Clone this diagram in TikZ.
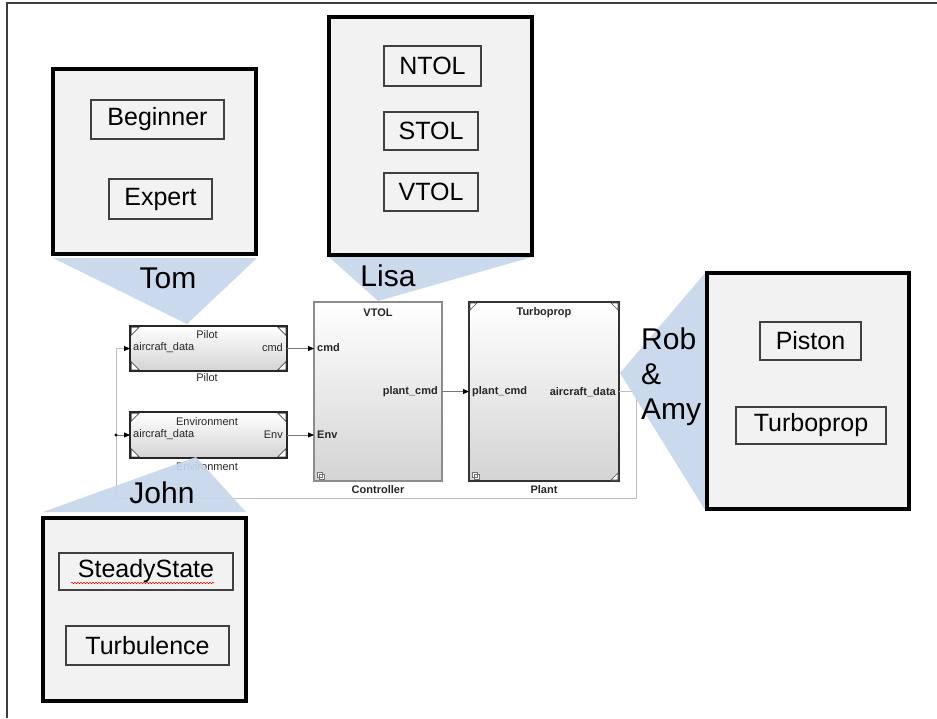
\documentclass[tikz,border=0pt]{standalone}
\usepackage{fontspec}
\setmainfont{Liberation Sans}
\usetikzlibrary{arrows.meta,decorations.pathmorphing}

\definecolor{callout}{RGB}{198,214,234}
\definecolor{panel}{RGB}{242,242,242}
\definecolor{wire}{RGB}{120,120,120}
\definecolor{loopwire}{RGB}{190,190,190}
\definecolor{framegray}{RGB}{60,60,60}

\tikzset{
  teambox/.style={draw=black, line width=3.6pt, fill=panel, inner sep=0pt, outer sep=0pt},
  variantbox/.style={draw=black!75, line width=1.1pt, fill=panel, inner sep=0pt,
    font=\fontsize{25}{30}\selectfont},
  who/.style={font=\fontsize{30}{35}\selectfont, inner sep=0pt},
  simblock/.style={anchor=north west, inner sep=0pt, outer sep=0pt,
    top color=white, middle color=white, bottom color=black!17},
  refblock/.style={simblock, draw=black!85, line width=2.2pt},
  subsysblock/.style={simblock, draw=black!45, line width=1.2pt},
  plantblock/.style={simblock, draw=black!80, line width=1.8pt},
  simtext/.style={font=\fontsize{11}{13}\selectfont, inner sep=0pt, text=black!85},
  simbold/.style={font=\fontsize{11}{13}\selectfont\bfseries, inner sep=0pt, text=black!85},
  sig/.style={draw=wire, line width=0.8pt, -{Triangle[length=6pt,width=5pt,color=black]}},
  feedback/.style={draw=loopwire, line width=0.8pt},
  cornermark/.style={fill=white, draw=black!70, line width=0.6pt},
  calloutshape/.style={fill=callout, fill opacity=0.92},
}

\begin{document}
\begin{tikzpicture}[x=1pt,y=-1pt]
\useasboundingbox (0,0) rectangle (937,718);

% page frame
\draw[framegray, line width=1.6pt] (7,718) -- (7,3) -- (937,3);

% ---------------- model blocks ----------------
\node[refblock, minimum width=157pt, minimum height=45pt] (pilot) at (130,326) {};
\node[refblock, minimum width=157pt, minimum height=46pt] (env) at (130,412) {};
\node[subsysblock, minimum width=128pt, minimum height=179pt] (ctrl) at (314,302) {};
\node[plantblock, minimum width=150pt, minimum height=179pt] (plant) at (469,302) {};

% corner marks of the referenced models
\foreach \blk in {pilot,env}{
  \foreach \a/\dx/\dy in {north west/1/1, north east/-1/1, south west/1/-1, south east/-1/-1}
    \filldraw[cornermark] ([shift={(1.2*\dx,1.2*\dy)}]\blk.\a) -- ++(8*\dx,0) -- ++(-8*\dx,8*\dy) -- cycle;
}
\foreach \a/\dx/\dy in {north west/1/1, north east/-1/1, south east/-1/-1}
  \filldraw[cornermark] ([shift={(1*\dx,1*\dy)}]plant.\a) -- ++(7*\dx,0) -- ++(-7*\dx,7*\dy) -- cycle;

% subsystem icons
\foreach \blk in {ctrl,plant}{
  \draw[black!55, line width=0.4pt, fill=white, shift={(\blk.south west)}]
    (3,-9) rectangle (8,-4) (5,-7) rectangle (10,-2);
}

% block texts
\node[simtext] (pilot-title) at (207,335) {Pilot};
\node[simtext, anchor=west] (pilot-in) at (133,348) {aircraft\_data};
\node[simtext, anchor=east] (pilot-out) at (283,348) {cmd};
\node[simtext] (pilot-name) at (207,378) {Pilot};

\node[simtext] (env-title) at (207,422) {Environment};
\node[simtext, anchor=west] (env-in) at (133,435) {aircraft\_data};
\node[simtext, anchor=east] (env-out) at (283,435) {Env};
\node[simtext] (env-name) at (207,467) {Environment};

\node[simbold] (ctrl-title) at (378,313) {VTOL};
\node[simbold, anchor=west] (ctrl-cmd) at (317,348) {cmd};
\node[simbold, anchor=west] (ctrl-env) at (317,435) {Env};
\node[simbold, anchor=east] (ctrl-out) at (438,392) {plant\_cmd};
\node[simbold] (ctrl-name) at (378,490) {Controller};

\node[simbold] (plant-title) at (544,313) {Turboprop};
\node[simbold, anchor=west] (plant-in) at (472,392) {plant\_cmd};
\node[simbold, anchor=east] (plant-out) at (616,392) {aircraft\_data};
\node[simbold] (plant-name) at (544,490) {Plant};

% signal lines
\coordinate (fbR) at (636,498);
\coordinate (fbL) at (116,498);
\coordinate (junction) at (116,435);
\draw[feedback] (plant.east) -| (fbR) -- (fbL) -- (junction);
\draw[feedback, -{Triangle[length=6pt,width=5pt,color=black]}] (junction) |- (pilot.west);
\draw[sig] (junction) -- (env.west);
\fill[black] (junction) circle (1.7);
\draw[sig] (pilot.east) -- (pilot.east -| ctrl.west);
\draw[sig] (env.east) -- (env.east -| ctrl.west);
\draw[sig] (ctrl.east) -- (plant.west);

% ---------------- callouts ----------------
\fill[calloutshape] (53,258) -- (257,258) -- (187,324) -- cycle;
\fill[calloutshape] (329,257) -- (532,257) -- (378,301) -- cycle;
\fill[calloutshape] (705,273) -- (705,510) -- (620,373) -- cycle;
\fill[calloutshape] (43,512) -- (246,512) -- (196,457) -- cycle;

\node[who] (tom) at (168,278) {Tom};
\node[who] (lisa) at (388,276) {Lisa};
\node[who] (john) at (162,493) {John};
\node[who, anchor=west, align=left] (robamy) at (641,377) {Rob\\\&\\Amy};

% ---------------- variant panels ----------------
\node[teambox, minimum width=203pt, minimum height=185pt] (tombox) at (154.5,161.5) {};
\node[variantbox, minimum width=133pt, minimum height=39pt] (beginner) at (157.5,119.5) {Beginner};
\node[variantbox, minimum width=103pt, minimum height=40pt] (expert) at (160.5,199) {Expert};

\node[teambox, minimum width=203pt, minimum height=238pt] (lisabox) at (430.5,136) {};
\node[variantbox, minimum width=97pt, minimum height=40pt] (ntol) at (432.5,66) {NTOL};
\node[variantbox, minimum width=94pt, minimum height=38pt] (stol) at (431,131) {STOL};
\node[variantbox, minimum width=94pt, minimum height=38pt] (vtol) at (431,192) {VTOL};

\node[teambox, minimum width=202pt, minimum height=236pt] (robbox) at (808,391) {};
\node[variantbox, minimum width=101pt, minimum height=38pt] (piston) at (810.5,341) {Piston};
\node[variantbox, minimum width=150pt, minimum height=37pt] (turboprop) at (811,425.5) {Turboprop};

\node[teambox, minimum width=203pt, minimum height=183pt] (johnbox) at (144.5,609.5) {};
\node[variantbox, minimum width=174pt, minimum height=37pt] (steady) at (146,571.5) {SteadyState};
\node[variantbox, minimum width=163pt, minimum height=39pt] (turb) at (147.5,645.5) {Turbulence};
\draw[red!85!black, line width=0.5pt, decorate,
  decoration={snake, amplitude=0.8pt, segment length=3pt}] (71,583) -- (214,583);
\end{tikzpicture}
\end{document}
